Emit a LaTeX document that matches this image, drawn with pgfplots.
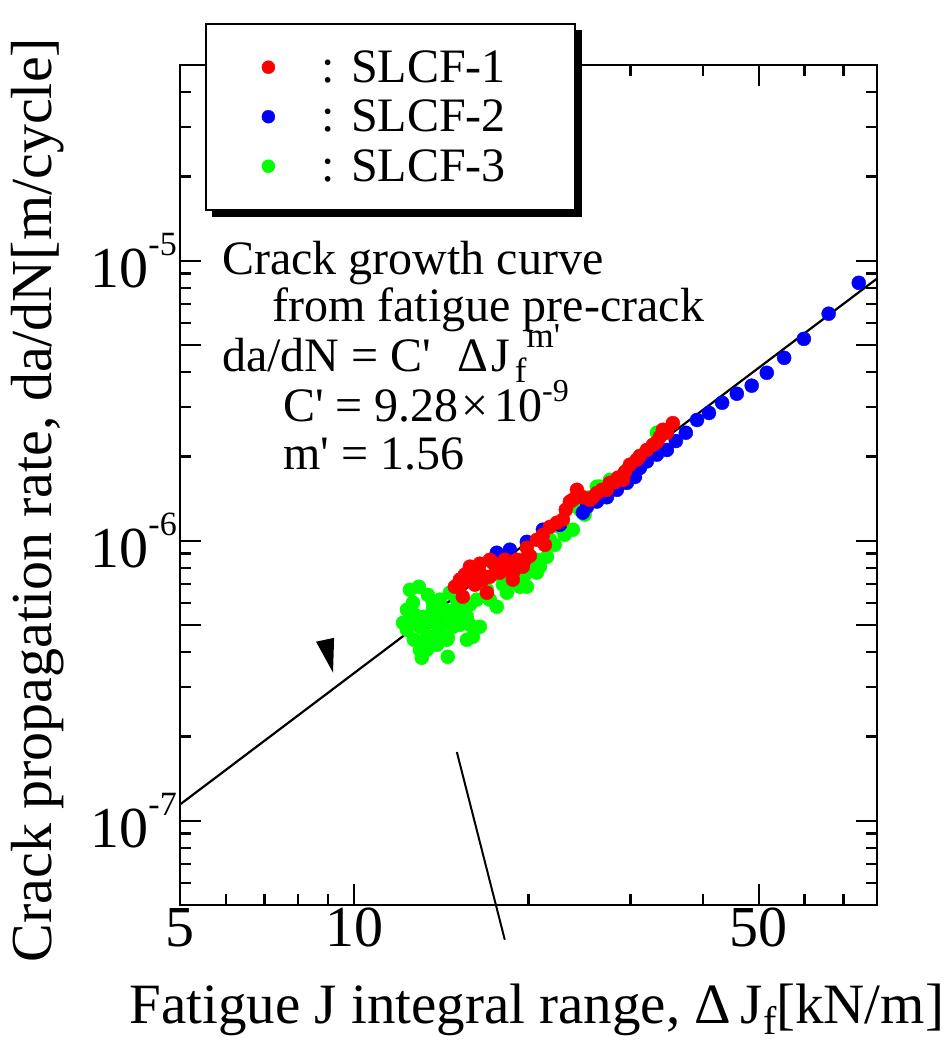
\documentclass[border=0pt]{standalone}
\usepackage{pgfplots}
\pgfplotsset{compat=1.18}
\usepackage{fontspec}
\setmainfont{Liberation Serif}
\newfontfamily\plainserif{Liberation Serif}

\definecolor{sred}{RGB}{255,0,0}
\definecolor{sblue}{RGB}{0,0,255}
\definecolor{sgreen}{RGB}{0,255,0}

% straight apostrophe (no TeX quote mapping)
\newcommand{\apos}{{\plainserif\char"0027}}
\newcommand{\bigfont}{\rmfamily\fontsize{58bp}{60bp}\selectfont}
\newcommand{\labelfont}{\rmfamily\fontsize{57bp}{60bp}\selectfont}
\newcommand{\annfont}{\rmfamily\fontsize{48bp}{50bp}\selectfont}
\newcommand{\decade}[1]{10\raisebox{0.55em}{\fontsize{34bp}{34bp}\selectfont -#1}}

% SLCF-1
\pgfplotstableread{
x y
14.92 6.85e-7
15.22 6.85e-7
15.40 6.31e-7
15.84 8.08e-7
16.68 7.26e-7
16.95 6.52e-7
17.15 7.44e-7
17.36 8.34e-7
17.85 7.69e-7
18.79 7.69e-7
18.79 7.26e-7
19.56 8.08e-7
15.22 7.26e-7
16.48 7.69e-7
17.15 8.55e-7
18.21 8.55e-7
19.09 8.55e-7
19.87 9.44e-7
20.68 1.008e-6
21.78 1.12e-6
22.93 1.19e-6
23.58 1.38e-6
24.25 1.52e-6
25.53 1.40e-6
27.31 1.52e-6
29.12 1.65e-6
23.86 1.40e-6
25.84 1.43e-6
26.78 1.52e-6
27.65 1.61e-6
28.54 1.68e-6
29.35 1.76e-6
29.94 1.87e-6
30.78 1.95e-6
32.02 2.11e-6
32.81 2.20e-6
33.73 2.35e-6
34.68 2.43e-6
35.52 2.63e-6
15.53 7.57e-7
16.16 6.97e-7
17.63 7.88e-7
18.42 8.14e-7
20.11 8.83e-7
21.18 1.05e-6
22.39 1.16e-6
23.20 1.29e-6
24.83 1.43e-6
26.25 1.48e-6
28.20 1.62e-6
31.15 2.01e-6
33.33 2.25e-6
34.13 2.49e-6
15.84 7.26e-7
16.48 8.28e-7
17.85 8.28e-7
18.93 7.88e-7
19.72 8.55e-7
21.35 9.67e-7
}\slcfone

% SLCF-2
\pgfplotstableread{
x y
17.63 9.06e-7
18.57 9.29e-7
19.87 9.91e-7
21.18 1.095e-6
22.66 1.14e-6
24.83 1.26e-6
25.23 1.32e-6
26.25 1.38e-6
27.31 1.43e-6
28.43 1.52e-6
29.58 1.61e-6
30.54 1.69e-6
31.15 1.82e-6
32.02 1.92e-6
33.33 2.03e-6
34.68 2.11e-6
35.94 2.27e-6
37.40 2.43e-6
39.1 2.70e-6
41.0 2.86e-6
43.2 3.11e-6
45.8 3.35e-6
48.6 3.58e-6
51.6 3.98e-6
55.3 4.50e-6
59.8 5.26e-6
66.0 6.47e-6
74.4 8.34e-6
}\slcftwo

% SLCF-3
\pgfplotstableread{
x y
12.93 6.85e-7
12.63 6.01e-7
12.33 5.67e-7
12.14 5.09e-7
12.33 4.81e-7
12.98 4.93e-7
13.14 5.35e-7
13.67 6.01e-7
13.67 5.67e-7
14.06 4.93e-7
13.51 4.54e-7
14.06 4.54e-7
14.51 4.50e-7
12.98 4.08e-7
13.35 4.08e-7
13.08 3.82e-7
14.51 3.85e-7
14.46 4.43e-7
14.81 4.93e-7
14.23 5.35e-7
14.81 5.22e-7
15.04 6.16e-7
14.63 6.52e-7
15.65 5.35e-7
15.65 4.43e-7
16.03 4.54e-7
16.48 4.93e-7
17.63 5.81e-7
18.35 6.52e-7
19.33 6.85e-7
19.87 6.85e-7
20.35 8.08e-7
20.68 7.69e-7
20.93 8.08e-7
15.22 6.31e-7
26.57 1.56e-6
23.86 1.095e-6
21.52 8.76e-7
20.11 7.88e-7
19.09 7.08e-7
20.68 8.55e-7
33.33 2.43e-6
27.65 1.65e-6
26.25 1.56e-6
29.58 1.79e-6
22.66 1.12e-6
24.54 1.29e-6
25.53 1.43e-6
21.78 1.008e-6
19.33 8.55e-7
17.85 7.57e-7
16.95 6.68e-7
16.28 6.16e-7
15.40 5.67e-7
18.57 7.69e-7
12.48 6.68e-7
13.90 5.01e-7
12.68 4.43e-7
15.10 5.67e-7
15.84 5.91e-7
17.15 6.16e-7
18.06 6.97e-7
19.72 7.57e-7
22.20 9.67e-7
23.10 1.05e-6
25.00 1.24e-6
27.00 1.46e-6
28.40 1.61e-6
31.80 2.03e-6
12.72 5.44e-7
13.24 5.01e-7
13.78 5.22e-7
14.34 5.67e-7
14.92 5.67e-7
13.24 4.43e-7
13.90 4.25e-7
15.22 5.01e-7
15.84 5.01e-7
12.48 5.22e-7
14.06 6.16e-7
13.40 6.41e-7
}\slcfthree

\begin{document}
\begin{tikzpicture}
\path[use as bounding box] (0,0) rectangle (948bp,1043bp);
\begin{axis}[
  at={(180bp,138bp)}, anchor=south west,
  width=697bp, height=840bp, scale only axis,
  xmode=log, ymode=log,
  xmin=5, xmax=80, ymin=5e-8, ymax=5e-5,
  clip=false,
  axis line style={line width=2.6bp},
  every tick/.style={black, line width=2.4bp},
  tick align=inside,
  major tick length=21bp, minor tick length=11bp,
  xtick={5,10,50}, xticklabels={5,10,50},
  minor xtick={6,7,8,9,20,30,40,60,70},
  ytick={1e-7,1e-6,1e-5},
  yticklabels={\decade{7},\decade{6},\decade{5}},
  extra y ticks={5e-8,5e-7,5e-6}, extra y tick labels={},
  minor ytick={6e-8,7e-8,8e-8,9e-8,2e-7,3e-7,4e-7,6e-7,7e-7,8e-7,9e-7,2e-6,3e-6,4e-6,6e-6,7e-6,8e-6,9e-6,2e-5,3e-5,4e-5},
  tick label style={font=\bigfont},
  xticklabel style={inner sep=0pt, yshift=-3bp},
  yticklabel style={inner sep=0pt, xshift=-3bp},
  xlabel={Fatigue J integral range, Δ\,J\raisebox{-0.2em}{\fontsize{40bp}{40bp}\selectfont f}[kN/m]},
  ylabel={Crack propagation rate, da/dN[m/cycle]},
  every axis x label/.style={at={(axis description cs:0.512,-0.141)}, anchor=base, font=\labelfont},
  every axis y label/.style={at={(axis description cs:-0.184,0.482)}, anchor=base, rotate=90, font=\bigfont},
  legend style={draw=none, fill=none, inner sep=0pt,
    at={(axis description cs:0.1169,1.0271)}, anchor=north west,
    font=\annfont, row sep=0pt, column sep=0pt, nodes={inner sep=0pt}},
  legend cell align=left,
  legend image code/.code={\fill[#1] (6.5bp,0bp) circle (6.5bp); \path[draw=none, fill=none] (0bp,-24.75bp) rectangle (60bp,24.75bp);},
]
% legend frame with its drop shadow
\fill[black] (axis description cs:0.0459,1.0417) rectangle (axis description cs:0.5768,0.8190);
\draw[line width=2.6bp, fill=white] (axis description cs:0.0373,1.0488) rectangle (axis description cs:0.5667,0.8274);

% fitted growth law da/dN = 9.28e-9 * dJ^1.56
\addplot[forget plot, black, line width=2.2bp] coordinates {(5,1.1429e-7) (80,8.637e-6)};

\addplot[forget plot, only marks, mark=*, mark size=7bp, color=sgreen] table {\slcfthree};
\addplot[forget plot, only marks, mark=*, mark size=7bp, color=sblue] table {\slcftwo};
\addplot[forget plot, only marks, mark=*, mark size=7bp, color=sred] table {\slcfone};

% pointer marks
\fill[black] (axis cs:8.59,4.36e-7) -- (axis cs:9.23,4.50e-7) -- (axis cs:9.19,3.38e-7) -- cycle;
\draw[line width=2bp] (axis cs:15.04,1.76e-7) -- (axis cs:18.2,3.76e-8);

\addlegendimage{only marks, mark=*, color=sred}\addlegendentry{: SLCF-1}
\addlegendimage{only marks, mark=*, color=sblue}\addlegendentry{: SLCF-2}
\addlegendimage{only marks, mark=*, color=sgreen}\addlegendentry{: SLCF-3}
\end{axis}

\begin{scope}[every node/.style={anchor=base west, inner sep=0pt, font=\annfont}]
\node at (222bp,768bp) {Crack growth curve};
\node at (272bp,721bp) {from fatigue pre-crack};
\node at (222bp,671bp) {da/dN = C\apos\hspace{0.55em}Δ\hspace{0.06em}J\hspace{0.1em}\raisebox{-0.21em}{\fontsize{35bp}{35bp}\selectfont f}\raisebox{0.5em}{\fontsize{35bp}{35bp}\selectfont m\apos}};
\node at (283bp,621bp) {C\apos\ = 9.28\hspace{0.05em}×\hspace{0.12em}10\raisebox{0.42em}{\fontsize{32bp}{32bp}\selectfont -9}};
\node at (283bp,573bp) {m\apos\ = 1.56};
\end{scope}
\end{tikzpicture}
\end{document}
